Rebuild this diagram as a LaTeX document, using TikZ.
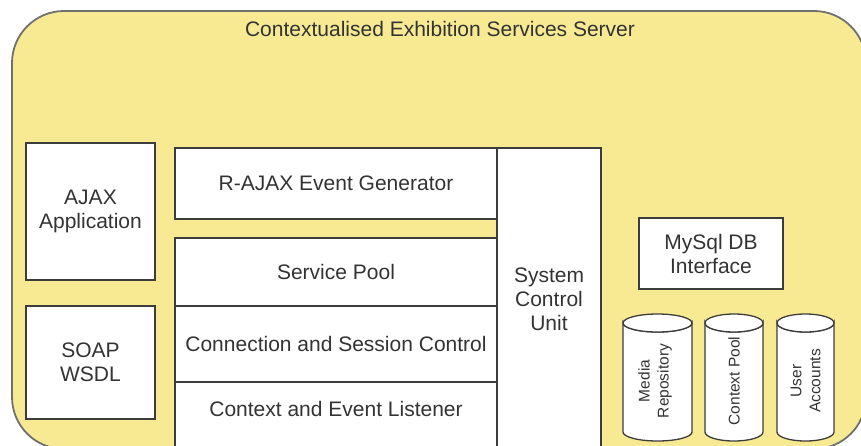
\documentclass[tikz,border=0pt]{standalone}
\usepackage{fontspec}
\setmainfont{Liberation Sans}
\definecolor{serverfill}{HTML}{F7EA93}
\definecolor{edge}{HTML}{3C3C3C}
\definecolor{outeredge}{HTML}{707070}
\definecolor{ink}{HTML}{333333}
\tikzset{
  box/.style={draw=edge, line width=1.4pt, fill=white, text=ink, align=center,
    inner sep=0pt, font=\fontsize{21}{24}\selectfont},
  txt/.style={text=ink, align=center, inner sep=0pt, font=\fontsize{21}{24}\selectfont},
  dbtxt/.style={text=ink, align=center, inner sep=0pt, rotate=90,
    font=\fontsize{15.5}{19}\selectfont},
  db/.style={draw=edge, line width=1.3pt, fill=white},
}
% cylinder: #1 left x, #2 right x, #3 top centre y, #4 bottom centre y
\newcommand{\dbcyl}[4]{%
  \pgfmathsetmacro{\rx}{(#2-#1)/2}%
  \pgfmathsetmacro{\cx}{(#1+#2)/2}%
  \path[db] (#1,#3) -- (#1,#4) arc[start angle=180, end angle=0, x radius=\rx, y radius=9]
    -- (#2,#3) arc[start angle=0, end angle=180, x radius=\rx, y radius=9] -- cycle;
  \draw[db] (\cx,#3) ellipse[x radius=\rx, y radius=9];
}
\begin{document}
\begin{tikzpicture}[x=1pt, y=-1pt]
  \useasboundingbox (0,0) rectangle (861,445);
  \clip (0,0) rectangle (861,445);

  % server container
  \draw[draw=outeredge, line width=1.8pt, fill=serverfill, rounded corners=52pt]
    (12,11) rectangle (866,449);
  \node[txt] (title) at (440,29) {Contextualised Exhibition Services Server};

  % client side interfaces
  \node[box, minimum width=129, minimum height=137] (ajax) at (90.5,211.5) {AJAX\\Application};
  \node[box, minimum width=129, minimum height=113] (soap) at (90.5,362.5) {SOAP\\WSDL};

  % core layers
  \node[box, minimum width=322, minimum height=71] (raj) at (336,183.5) {R-AJAX Event Generator};
  \node[box, minimum width=322, minimum height=68] (pool) at (336,272) {Service Pool};
  \node[box, minimum width=322, minimum height=76] (conn) at (336,344) {Connection and Session Control};
  \node[box, minimum width=322, minimum height=70] (listen) at (336,417) {};
  \node[txt] (listentext) at (336,409) {Context and Event Listener};
  \node[box, minimum width=104, minimum height=302] (scu) at (549,299) {System\\Control\\Unit};

  % persistence
  \node[box, minimum width=144, minimum height=71] (mysql) at (711,253.5) {MySql DB\\Interface};
  \dbcyl{623}{692}{323}{432}
  \dbcyl{705}{763}{323}{432}
  \dbcyl{777}{834}{323}{432}
  \node[dbtxt] (media) at (655,381) {Media\\Repository};
  \node[dbtxt] (ctxpool) at (734,381) {Context Pool};
  \node[dbtxt] (users) at (805.5,381) {User\\Accounts};
\end{tikzpicture}
\end{document}
